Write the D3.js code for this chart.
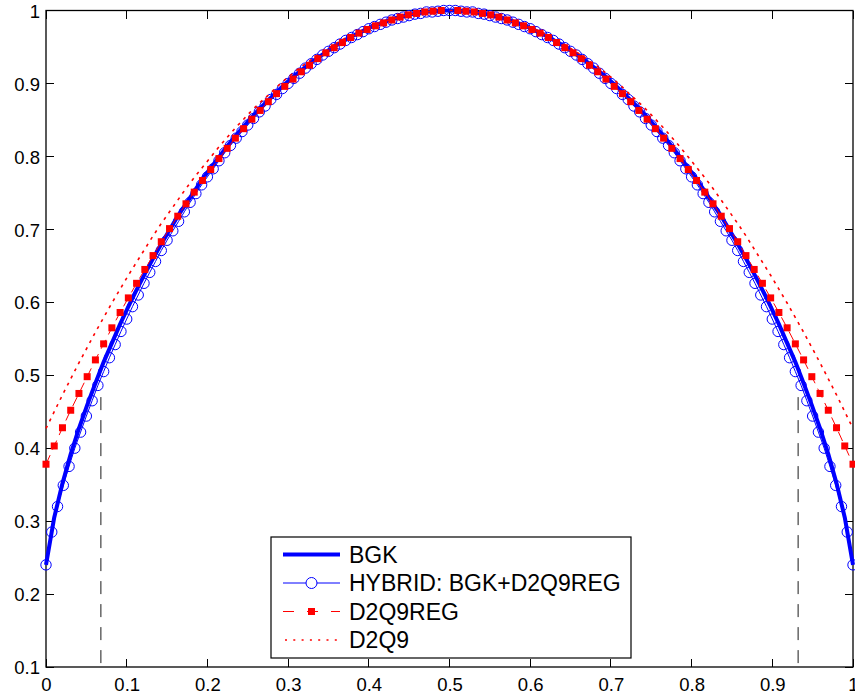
<!DOCTYPE html>
<html>
<head>
<meta charset="utf-8">
<script src="https://cdn.jsdelivr.net/npm/d3@7"></script>
<style>
  html, body { margin: 0; padding: 0; background: #fff; }
  svg { display: block; }
  text { font-family: "Liberation Sans", Arial, Helvetica, sans-serif; fill: #000; }
</style>
</head>
<body>
<svg id="chart" width="855" height="698"></svg>
<script>
// Normalised velocity profiles across the channel (x = y/H from wall to wall)
const bgk = [
  0.240,0.305,0.352,0.392,0.427,0.459,0.489,0.518,0.544,0.570,
  0.594,0.617,0.639,0.660,0.680,0.699,0.718,0.735,0.752,0.769,
  0.784,0.799,0.814,0.828,0.841,0.854,0.866,0.877,0.888,0.899,
  0.909,0.918,0.927,0.935,0.943,0.951,0.957,0.964,0.969,0.975,
  0.980,0.984,0.988,0.991,0.994,0.996,0.998,0.999,1.000,1.000,
  1.000,0.999,0.998,0.996,0.994,0.991,0.988,0.984,0.980,0.975,
  0.969,0.964,0.957,0.951,0.943,0.935,0.927,0.918,0.909,0.899,
  0.888,0.877,0.866,0.854,0.841,0.828,0.814,0.799,0.784,0.769,
  0.752,0.735,0.718,0.699,0.680,0.660,0.639,0.617,0.594,0.570,
  0.544,0.518,0.489,0.459,0.427,0.392,0.352,0.305,0.240
];

const hybrid = [
  0.240,0.285,0.320,0.349,0.375,0.400,0.422,0.444,0.465,0.486,
  0.505,0.524,0.542,0.560,0.577,0.594,0.610,0.626,0.641,0.656,
  0.671,0.685,0.698,0.711,0.724,0.737,0.749,0.761,0.772,0.783,
  0.794,0.805,0.815,0.825,0.834,0.843,0.852,0.861,0.869,0.878,
  0.885,0.893,0.900,0.907,0.914,0.921,0.927,0.933,0.939,0.944,
  0.949,0.954,0.959,0.963,0.967,0.971,0.975,0.978,0.981,0.984,
  0.987,0.989,0.991,0.993,0.995,0.996,0.998,0.998,0.999,1.000,
  1.000,
  1.000,0.999,0.998,0.998,0.996,0.995,0.993,0.991,0.989,0.987,
  0.984,0.981,0.978,0.975,0.971,0.967,0.963,0.959,0.954,0.949,
  0.944,0.939,0.933,0.927,0.921,0.914,0.907,0.900,0.893,0.885,
  0.878,0.869,0.861,0.852,0.843,0.834,0.825,0.815,0.805,0.794,
  0.783,0.772,0.761,0.749,0.737,0.724,0.711,0.698,0.685,0.671,
  0.656,0.641,0.626,0.610,0.594,0.577,0.560,0.542,0.524,0.505,
  0.486,0.465,0.444,0.422,0.400,0.375,0.349,0.320,0.285,0.240
];

// centre node is not stored for the regularised run
const d2q9reg = [
  0.378,0.403,0.428,0.452,0.475,0.498,0.521,0.543,0.565,0.586,
  0.606,0.626,0.645,0.664,0.683,0.701,0.718,0.735,0.751,0.767,
  0.782,0.797,0.811,0.825,0.838,0.851,0.863,0.875,0.886,0.896,
  0.906,0.916,0.925,0.934,0.942,0.949,0.956,0.963,0.969,0.974,
  0.979,0.983,0.987,0.991,0.994,0.996,0.998,0.999,1.000,null,
  1.000,0.999,0.998,0.996,0.994,0.991,0.987,0.983,0.979,0.974,
  0.969,0.963,0.956,0.949,0.942,0.934,0.925,0.916,0.906,0.896,
  0.886,0.875,0.863,0.851,0.838,0.825,0.811,0.797,0.782,0.767,
  0.751,0.735,0.718,0.701,0.683,0.664,0.645,0.626,0.606,0.586,
  0.565,0.543,0.521,0.498,0.475,0.452,0.428,0.403,0.378
];

const d2q9 = [
  0.427,0.450,0.473,0.495,0.517,0.538,0.559,0.579,0.599,0.618,
  0.637,0.655,0.673,0.691,0.708,0.724,0.740,0.756,0.771,0.785,
  0.799,0.813,0.826,0.839,0.851,0.863,0.874,0.884,0.895,0.905,
  0.914,0.923,0.931,0.939,0.946,0.953,0.960,0.966,0.971,0.976,
  0.981,0.985,0.988,0.991,0.994,0.996,0.998,0.999,1.000,1.000,
  1.000,0.999,0.998,0.996,0.994,0.991,0.988,0.985,0.981,0.976,
  0.971,0.966,0.960,0.953,0.946,0.939,0.931,0.923,0.914,0.905,
  0.895,0.884,0.874,0.863,0.851,0.839,0.826,0.813,0.799,0.785,
  0.771,0.756,0.740,0.724,0.708,0.691,0.673,0.655,0.637,0.618,
  0.599,0.579,0.559,0.538,0.517,0.495,0.473,0.450,0.427
];

// Interface positions of the hybrid scheme (dashed markers) and their top
const interfaceX = [0.068, 0.932];
const interfaceTop = 0.47;

const xTicks = [0, 0.1, 0.2, 0.3, 0.4, 0.5, 0.6, 0.7, 0.8, 0.9, 1];
const xTickLabels = ["0", "0.1", "0.2", "0.3", "0.4", "0.5", "0.6", "0.7", "0.8", "0.9", "1"];
const yTicks = [0.1, 0.2, 0.3, 0.4, 0.5, 0.6, 0.7, 0.8, 0.9, 1];
const yTickLabels = ["0.1", "0.2", "0.3", "0.4", "0.5", "0.6", "0.7", "0.8", "0.9", "1"];

const legendLabels = ["BGK", "HYBRID: BGK+D2Q9REG", "D2Q9REG", "D2Q9"];

const BLUE = "#0000ff", RED = "#ff0000";

const svg = d3.select("#chart");
const plot = { left: 46, right: 853, top: 10.5, bottom: 667 };

const x = d3.scaleLinear().domain([0, 1]).range([plot.left, plot.right]);
const y = d3.scaleLinear().domain([0.1, 1]).range([plot.bottom, plot.top]);

// uniform lattice from wall to wall for each profile
const toPoints = arr => arr.map((v, i) => ({ x: i / (arr.length - 1), y: v }));

const line = d3.line()
  .defined(d => d.y != null)
  .x(d => x(d.x))
  .y(d => y(d.y));

svg.append("rect").attr("width", 855).attr("height", 698).attr("fill", "#fff");

// dashed interface lines
svg.append("g").selectAll("line")
  .data(interfaceX)
  .join("line")
  .attr("x1", d => x(d)).attr("x2", d => x(d))
  .attr("y1", y(interfaceTop)).attr("y2", y(0.1))
  .attr("stroke", "#1a1a1a").attr("stroke-width", 1)
  .attr("stroke-dasharray", "13,10");

// axes box and ticks
const axes = svg.append("g");
const tickLen = 8;

const xAxisB = d3.axisBottom(x).tickValues(xTicks).tickSize(0).tickFormat((d, i) => xTickLabels[i]);
const gx = axes.append("g").attr("transform", `translate(0,${plot.bottom})`).call(xAxisB);
gx.select(".domain").remove();
gx.selectAll("text").attr("font-size", 18.5).attr("dy", null).attr("y", 24)
  .attr("font-family", "Liberation Sans, Arial, sans-serif");

const yAxisL = d3.axisLeft(y).tickValues(yTicks).tickSize(0).tickFormat((d, i) => yTickLabels[i]);
const gy = axes.append("g").attr("transform", `translate(${plot.left},0)`).call(yAxisL);
gy.select(".domain").remove();
gy.selectAll("text").attr("font-size", 18.5).attr("x", -6).attr("dy", "0.36em")
  .attr("font-family", "Liberation Sans, Arial, sans-serif");

// inward ticks on all four sides
const tk = axes.append("g").attr("stroke", "#000").attr("stroke-width", 1).attr("shape-rendering", "crispEdges");
xTicks.forEach(t => {
  tk.append("line").attr("x1", x(t)).attr("x2", x(t)).attr("y1", plot.bottom).attr("y2", plot.bottom - tickLen);
  tk.append("line").attr("x1", x(t)).attr("x2", x(t)).attr("y1", plot.top).attr("y2", plot.top + tickLen);
});
yTicks.forEach(t => {
  tk.append("line").attr("x1", plot.left).attr("x2", plot.left + tickLen).attr("y1", y(t)).attr("y2", y(t));
  tk.append("line").attr("x1", plot.right).attr("x2", plot.right - tickLen).attr("y1", y(t)).attr("y2", y(t));
});

axes.append("rect")
  .attr("x", plot.left).attr("y", plot.top)
  .attr("width", plot.right - plot.left).attr("height", plot.bottom - plot.top)
  .attr("fill", "none").attr("stroke", "#000").attr("stroke-width", 1.3);

// series
const series = svg.append("g");

series.append("path").datum(toPoints(bgk))
  .attr("d", line).attr("fill", "none")
  .attr("stroke", BLUE).attr("stroke-width", 4).attr("stroke-linejoin", "round");

const hyb = toPoints(hybrid);
series.append("path").datum(hyb)
  .attr("d", line).attr("fill", "none")
  .attr("stroke", BLUE).attr("stroke-width", 1);
series.append("g").selectAll("circle").data(hyb).join("circle")
  .attr("cx", d => x(d.x)).attr("cy", d => y(d.y)).attr("r", 5.2)
  .attr("fill", "none").attr("stroke", BLUE).attr("stroke-width", 1);

const reg = toPoints(d2q9reg);
series.append("path").datum(reg)
  .attr("d", line).attr("fill", "none")
  .attr("stroke", RED).attr("stroke-width", 1).attr("stroke-dasharray", "10,6");
series.append("g").selectAll("rect").data(reg.filter(d => d.y != null)).join("rect")
  .attr("x", d => x(d.x) - 3.5).attr("y", d => y(d.y) - 3.5)
  .attr("width", 7).attr("height", 7).attr("fill", RED);

series.append("path").datum(toPoints(d2q9))
  .attr("d", line).attr("fill", "none")
  .attr("stroke", RED).attr("stroke-width", 1.6).attr("stroke-dasharray", "3,5");

// legend
const lg = svg.append("g");
lg.append("rect").attr("x", 271).attr("y", 537).attr("width", 360).attr("height", 121)
  .attr("fill", "#fff").attr("stroke", "#000").attr("stroke-width", 1.2);

const rowY = [554.5, 583, 611.5, 640];
const lx1 = 283, lx2 = 340, lmid = 311.5, tx = 349;

// BGK
lg.append("line").attr("x1", lx1).attr("x2", lx2).attr("y1", rowY[0]).attr("y2", rowY[0])
  .attr("stroke", BLUE).attr("stroke-width", 4);
// HYBRID
lg.append("line").attr("x1", lx1).attr("x2", lx2).attr("y1", rowY[1]).attr("y2", rowY[1])
  .attr("stroke", BLUE).attr("stroke-width", 1);
lg.append("circle").attr("cx", lmid).attr("cy", rowY[1]).attr("r", 5.5)
  .attr("fill", "#fff").attr("stroke", BLUE).attr("stroke-width", 1);
// D2Q9REG
lg.append("line").attr("x1", lx1).attr("x2", lx2).attr("y1", rowY[2]).attr("y2", rowY[2])
  .attr("stroke", RED).attr("stroke-width", 1).attr("stroke-dasharray", "11,13");
lg.append("rect").attr("x", lmid - 3.5).attr("y", rowY[2] - 3.5).attr("width", 7).attr("height", 7).attr("fill", RED);
// D2Q9
lg.append("line").attr("x1", lx1 + 2).attr("x2", lx2).attr("y1", rowY[3]).attr("y2", rowY[3])
  .attr("stroke", RED).attr("stroke-width", 1.6).attr("stroke-dasharray", "2,6.3");

lg.selectAll("text.lbl").data(legendLabels).join("text")
  .attr("class", "lbl")
  .attr("x", tx).attr("y", (d, i) => rowY[i]).attr("dy", "0.36em")
  .attr("font-size", 23)
  .text(d => d);
</script>
</body>
</html>
